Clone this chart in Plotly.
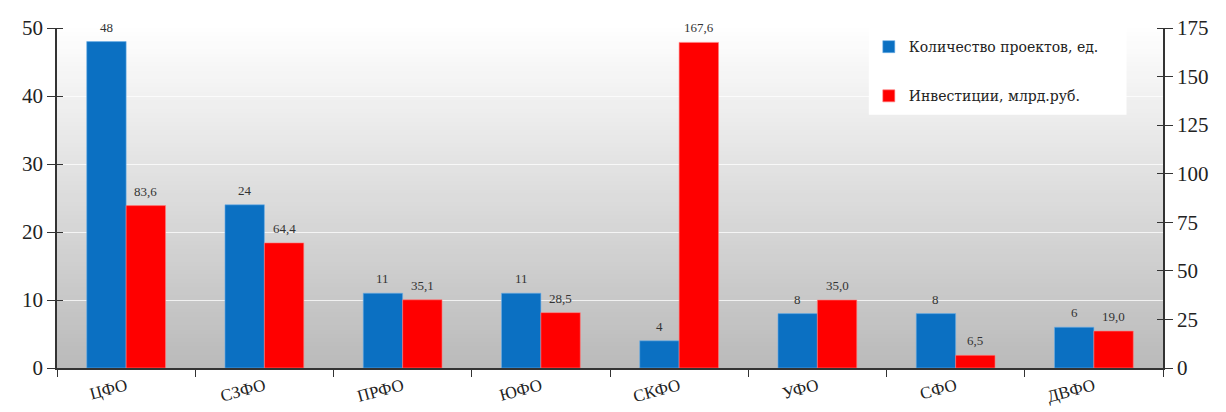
import plotly.graph_objects as go

categories = ["ЦФО", "СЗФО", "ПРФО", "ЮФО", "СКФО", "УФО", "СФО", "ДВФО"]
projects = [48, 24, 11, 11, 4, 8, 8, 6]
investments = [83.6, 64.4, 35.1, 28.5, 167.6, 35.0, 6.5, 19.0]
left_ticks = [0, 10, 20, 30, 40, 50]
right_ticks = [0, 25, 50, 75, 100, 125, 150, 175]

name_projects = "Количество проектов, ед."
name_invest = "Инвестиции, млрд.руб."

SERIF = "Liberation Serif, Times New Roman, serif"
BLUE = "#0b70c2"
RED = "#ff0000"
BARGAP = 0.43

fig = go.Figure()
fig.add_trace(go.Bar(
    x=categories, y=projects, name=name_projects, yaxis="y",
    offsetgroup="1", legendgroup="a",
    marker=dict(color=BLUE, line=dict(color="#6fb0e8", width=0.6)),
))
fig.add_trace(go.Bar(
    x=categories, y=investments, name=name_invest, yaxis="y2",
    offsetgroup="2", legendgroup="b",
    marker=dict(color=RED, line=dict(color="#ff8080", width=0.6)),
))

# page has an 8px body margin: figure is sized/margined to compensate
W, H = 1210, 400
ML, MR, MT, MB = 49, 55, 20, 40
plot_w = W - ML - MR
half_bar = plot_w / len(categories) * (1 - BARGAP) / 4

annotations = []
for cat, v in zip(categories, projects):
    annotations.append(dict(
        x=cat, y=v, xref="x", yref="y", text=str(v), showarrow=False,
        xshift=-half_bar, yanchor="bottom", yshift=5,
        font=dict(family=SERIF, size=13, color="#333333"),
    ))
for cat, v in zip(categories, investments):
    annotations.append(dict(
        x=cat, y=v, xref="x", yref="y2", text=f"{v:.1f}".replace(".", ","),
        showarrow=False, xshift=half_bar, yanchor="bottom", yshift=5,
        font=dict(family=SERIF, size=13, color="#333333"),
    ))

# vertical gradient background of the plot area (overlapping layers, no seams)
n = 80
top = (254, 254, 254)
bot = (186, 186, 186)
shapes = []
for i in range(n):
    t = i / (n - 1)
    c = tuple(int(round(top[k] + (bot[k] - top[k]) * t)) for k in range(3))
    shapes.append(dict(
        type="rect", xref="paper", yref="paper", layer="below",
        x0=0, x1=1, y0=0, y1=1 - i / n,
        fillcolor=f"rgb{c}", line=dict(width=0),
    ))
# white legend panel
shapes.append(dict(
    type="rect", xref="paper", yref="paper", layer="below",
    x0=0.734, x1=0.967, y0=0.745, y1=1.018,
    fillcolor="white", line=dict(width=0),
))

fig.update_layout(
    width=W, height=H,
    margin=dict(l=ML, r=MR, t=MT, b=MB),
    paper_bgcolor="white", plot_bgcolor="rgba(0,0,0,0)",
    barmode="group", bargap=BARGAP, bargroupgap=0,
    shapes=shapes, annotations=annotations,
    font=dict(family=SERIF, color="#222222"),
    xaxis=dict(
        tickson="boundaries", ticks="outside", ticklen=7, tickcolor="#333",
        showline=True, linecolor="#333", linewidth=1.5,
        tickangle=-15, tickfont=dict(family=SERIF, size=17, color="#222"),
        showgrid=False, automargin=False,
    ),
    yaxis=dict(
        range=[0, 50], tickvals=left_ticks, ticks="outside", ticklen=8,
        tickcolor="#333", showline=True, linecolor="#333", linewidth=1.5,
        tickfont=dict(family=SERIF, size=21, color="#222"),
        showgrid=True, gridcolor="rgba(255,255,255,0.75)", gridwidth=1.2,
        zeroline=False, automargin=False,
        minor=dict(dtick=10, tick0=0, ticks="inside", ticklen=6, tickcolor="#333", showgrid=False),
    ),
    yaxis2=dict(
        range=[0, 175], tickvals=right_ticks, overlaying="y", side="right",
        ticks="outside", ticklen=8, tickcolor="#333", showline=True,
        linecolor="#333", linewidth=1.5,
        tickfont=dict(family=SERIF, size=21, color="#222"),
        showgrid=False, zeroline=False, automargin=False,
        minor=dict(dtick=25, tick0=0, ticks="inside", ticklen=6, tickcolor="#333", showgrid=False),
    ),
    legend=dict(
        x=0.734, y=0.991, xanchor="left", yanchor="top",
        bgcolor="rgba(0,0,0,0)", borderwidth=0,
        font=dict(family="DejaVu Serif, serif", size=14, color="#222"),
        traceorder="grouped", tracegroupgap=28, itemwidth=30,
    ),
)

fig.write_html("out.html")
